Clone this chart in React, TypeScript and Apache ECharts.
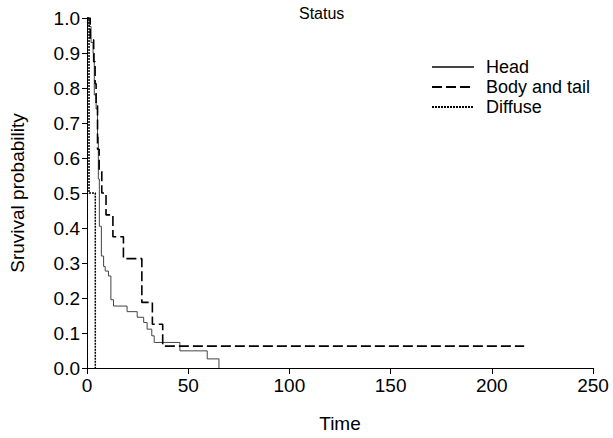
import React, { useEffect, useRef } from "react";
import * as echarts from "echarts";

const headTime = [0, 1, 2, 3, 3.6, 4.5, 5.2, 5.6, 6.1, 7.1, 8.2, 9.0, 10.6, 11.8, 13.1, 19.8, 24.8, 28.0, 29.7, 32.0, 33.2, 45.9, 59.4, 65.2];
const headSurv = [1, 0.976, 0.93, 0.9, 0.78, 0.74, 0.66, 0.54, 0.405, 0.32, 0.29, 0.277, 0.263, 0.195, 0.177, 0.161, 0.145, 0.13, 0.111, 0.092, 0.073, 0.049, 0.026, 0];

const bodyTime = [0, 1.6, 3.3, 4.0, 4.5, 5.2, 6.0, 7.3, 9.4, 12.8, 18.0, 27.1, 32.3, 37.4, 216];
const bodySurv = [1, 0.9375, 0.875, 0.8125, 0.75, 0.625, 0.5625, 0.5, 0.4375, 0.375, 0.3125, 0.1875, 0.125, 0.0625, 0.0625];

const diffuseTime = [0, 1, 4.1];
const diffuseSurv = [1, 0.5, 0];

const seriesNames = ["Head", "Body and tail", "Diffuse"];

const zip = (t: number[], s: number[]) => t.map((v, i) => [v, s[i]]);

const FONT = "'Liberation Sans', Arial, Helvetica, sans-serif";

export default function App() {
  const ref = useRef<HTMLDivElement>(null);
  useEffect(() => {
    document.body.style.margin = "0";
    if (!ref.current) return;
    const chart = echarts.init(ref.current, undefined, { renderer: "svg" });
    chart.setOption({
      animation: false,
      backgroundColor: "#ffffff",
      textStyle: { fontFamily: FONT },
      grid: { left: 85, right: 20, top: 18, bottom: 69 },
      graphic: [
        {
          type: "text",
          left: 299,
          top: 5,
          style: { text: "Status", fontSize: 16, fontFamily: FONT, fill: "#000" },
        },
      ],
      legend: {
        orient: "vertical",
        left: 426,
        top: 52,
        itemWidth: 42,
        itemHeight: 14,
        itemGap: 0,
        itemStyle: { opacity: 0 },
        textStyle: { fontSize: 18, fontFamily: FONT, color: "#000", lineHeight: 20, padding: [0, 0, 0, 7] },
        data: seriesNames,
      },
      xAxis: {
        type: "value",
        min: 0,
        max: 250,
        interval: 50,
        name: "Time",
        nameLocation: "middle",
        nameGap: 46,
        nameTextStyle: { fontSize: 19, color: "#000", fontFamily: FONT },
        axisLine: { onZero: false, lineStyle: { color: "#000", width: 1 } },
        axisTick: { length: 6, lineStyle: { color: "#000" } },
        axisLabel: { fontSize: 19, color: "#000", margin: 8, fontFamily: FONT },
        splitLine: { show: false },
      },
      yAxis: {
        type: "value",
        min: 0,
        max: 1,
        interval: 0.1,
        name: "Sruvival probability",
        nameLocation: "middle",
        nameGap: 60,
        nameTextStyle: { fontSize: 19, color: "#000", fontFamily: FONT },
        axisLine: { show: true, lineStyle: { color: "#000", width: 1 } },
        axisTick: { show: true, length: 5, lineStyle: { color: "#000" } },
        axisLabel: {
          fontSize: 19,
          color: "#000",
          margin: 7,
          fontFamily: FONT,
          formatter: (v: number) => v.toFixed(1),
        },
        splitLine: { show: false },
      },
      series: [
        {
          name: seriesNames[0],
          type: "line",
          step: "end",
          symbol: "none",
          data: zip(headTime, headSurv),
          lineStyle: { color: "#444", width: 1, type: "solid" },
          itemStyle: { color: "#444" },
        },
        {
          name: seriesNames[1],
          type: "line",
          step: "end",
          symbol: "none",
          data: zip(bodyTime, bodySurv),
          lineStyle: { color: "#000", width: 1.6, type: [10, 4] },
          itemStyle: { color: "#000" },
        },
        {
          name: seriesNames[2],
          type: "line",
          step: "end",
          symbol: "none",
          data: zip(diffuseTime, diffuseSurv),
          lineStyle: { color: "#000", width: 1.5, type: [2, 1] },
          itemStyle: { color: "#000" },
        },
      ],
    });
    return () => chart.dispose();
  }, []);
  return <div ref={ref} style={{ width: 613, height: 438 }} />;
}
